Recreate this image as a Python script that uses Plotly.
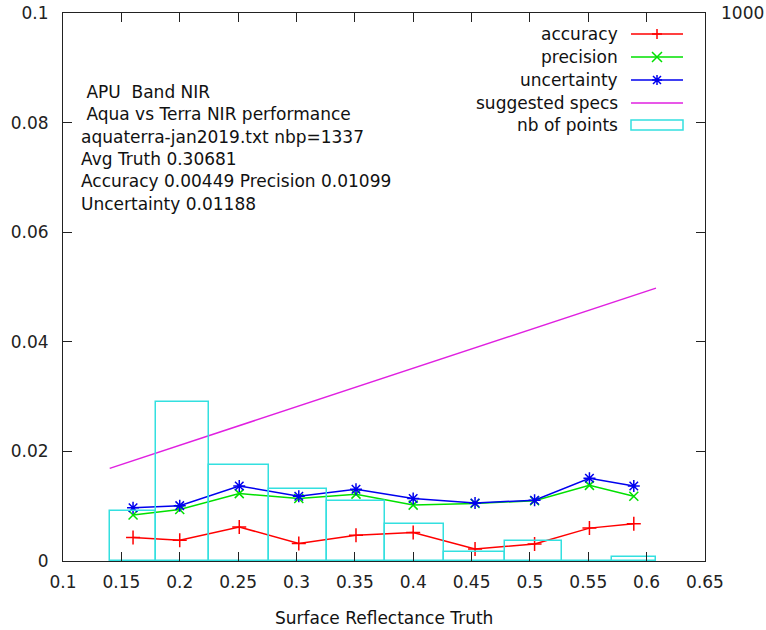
import plotly.graph_objects as go

# ---------------- data ----------------
truth = [0.160, 0.200, 0.251, 0.302, 0.351, 0.400, 0.453, 0.504, 0.551, 0.589]
accuracy = [0.0043, 0.0038, 0.0062, 0.0032, 0.0047, 0.0052, 0.0022, 0.0031, 0.0060, 0.0068]
precision = [0.0084, 0.0094, 0.0123, 0.0114, 0.0122, 0.0102, 0.0105, 0.0110, 0.0138, 0.0118]
uncertainty = [0.0097, 0.0101, 0.0137, 0.0118, 0.0131, 0.0114, 0.0106, 0.0111, 0.0151, 0.0137]
npoints = [92, 291, 175, 131, 110, 68, 17, 36, 0, 7]
spec_values = [0.0169, 0.0498]
info_lines = [
    "\u00a0APU\u00a0\u00a0Band NIR",
    "\u00a0Aqua vs Terra NIR performance",
    "aquaterra-jan2019.txt nbp=1337",
    "Avg Truth 0.30681",
    "Accuracy 0.00449 Precision 0.01099",
    "Uncertainty 0.01188",
]
x_ticks = [0.1, 0.15, 0.2, 0.25, 0.3, 0.35, 0.4, 0.45, 0.5, 0.55, 0.6, 0.65]
y_ticks = [0, 0.02, 0.04, 0.06, 0.08, 0.1]
y_tick_labels = ["0", "0.02", "0.04", "0.06", "0.08", "0.1"]

# box edges like gnuplot autowidth
mids = [(truth[i] + truth[i + 1]) / 2 for i in range(len(truth) - 1)]
edges = [truth[0] - (mids[0] - truth[0])] + mids + [truth[-1] + (truth[-1] - mids[-1])]
widths = [edges[i + 1] - edges[i] for i in range(len(truth))]
centers = [(edges[i + 1] + edges[i]) / 2 for i in range(len(truth))]
spec_x = [edges[0], edges[-1]]

# ---------------- styling ----------------
W, H = 766, 630
L, R, T, B = 63, 705, 13, 561
FONT = "DejaVu Sans"
FS = 17
RED = "#ff0000"
GREEN = "#00e000"
BLUE = "#0000ee"
MAGENTA = "#e020e0"
CYAN = "#33e0e0"
AXC = "#222222"


def px(x, y):
    return (x - L) / (R - L), (B - y) / (B - T)


fig = go.Figure()

fig.add_trace(go.Scatter(x=truth, y=accuracy, mode="lines+markers",
                         line=dict(color=RED, width=1.5),
                         marker=dict(symbol="cross-thin-open", size=10,
                                     line=dict(color=RED, width=1.5))))
fig.add_trace(go.Scatter(x=truth, y=precision, mode="lines+markers",
                         line=dict(color=GREEN, width=1.5),
                         marker=dict(symbol="x-thin-open", size=9,
                                     line=dict(color=GREEN, width=1.5))))
fig.add_trace(go.Scatter(x=truth, y=uncertainty, mode="lines+markers",
                         line=dict(color=BLUE, width=1.5),
                         marker=dict(symbol="asterisk-open", size=10,
                                     line=dict(color=BLUE, width=1.5))))
fig.add_trace(go.Scatter(x=spec_x, y=spec_values, mode="lines",
                         line=dict(color=MAGENTA, width=1.5)))
fig.add_trace(go.Bar(x=centers, y=npoints, width=widths, yaxis="y2",
                     marker=dict(color="rgba(0,0,0,0)",
                                 line=dict(color=CYAN, width=1.5))))

fig.update_layout(
    width=W, height=H,
    margin=dict(l=L, r=W - R, t=T, b=H - B, pad=0),
    paper_bgcolor="white", plot_bgcolor="white",
    showlegend=False,
    font=dict(family=FONT, size=FS, color=AXC),
    xaxis=dict(range=[0.1, 0.65], tickvals=x_ticks,
               ticktext=[f"{v:g}" for v in x_ticks],
               ticks="inside", ticklen=9, tickcolor=AXC, tickwidth=1,
               showline=True, linecolor=AXC, linewidth=1, mirror="ticks",
               showgrid=False, zeroline=False, automargin=False,
               ticklabelstandoff=6),
    yaxis=dict(range=[0, 0.1], tickvals=y_ticks, ticktext=y_tick_labels,
               ticks="inside", ticklen=9, tickcolor=AXC, tickwidth=1,
               showline=True, linecolor=AXC, linewidth=1, mirror="ticks",
               showgrid=False, zeroline=False, ticklabelstandoff=10,
               automargin=False),
    yaxis2=dict(range=[0, 1000], overlaying="y", side="right",
                tickvals=[1000], ticktext=["1000"], ticks="",
                showline=False, showgrid=False, zeroline=False,
                ticklabelstandoff=15, automargin=False),
    bargap=0,
)

# x-axis title
xp, yp = px((L + R) / 2, 618)
fig.add_annotation(text="Surface Reflectance Truth", x=xp, y=yp, xref="paper",
                   yref="paper", xanchor="center", yanchor="middle",
                   showarrow=False, font=dict(family=FONT, size=FS, color="#111111"))

# info text block
info_y = [92, 114, 137, 159, 181, 204]
for txt, yy in zip(info_lines, info_y):
    xp, yp = px(79, yy)
    fig.add_annotation(text=txt, x=xp, y=yp, xref="paper", yref="paper",
                       xanchor="left", yanchor="middle", showarrow=False,
                       font=dict(family=FONT, size=FS, color="#111111"))

# custom gnuplot-like legend
leg_names = ["accuracy", "precision", "uncertainty", "suggested specs", "nb of points"]
leg_colors = [RED, GREEN, BLUE, MAGENTA, CYAN]
leg_y = [34, 57, 80, 103, 125]
sx0, sx1 = 631, 683
sxm = (sx0 + sx1) / 2
for i, (name, col, yy) in enumerate(zip(leg_names, leg_colors, leg_y)):
    xp, yp = px(620, yy)
    fig.add_annotation(text=name, x=xp, y=yp, xref="paper", yref="paper",
                       xanchor="right", yanchor="middle", showarrow=False,
                       font=dict(family=FONT, size=FS, color="#111111"))
    if i < 4:
        a = px(sx0, yy)
        b = px(sx1, yy)
        fig.add_shape(type="line", x0=a[0], y0=a[1], x1=b[0], y1=b[1],
                      xref="paper", yref="paper", line=dict(color=col, width=1.5))
    else:
        a = px(sx0, yy - 5)
        b = px(sx1, yy + 5)
        fig.add_shape(type="rect", x0=a[0], y0=a[1], x1=b[0], y1=b[1],
                      xref="paper", yref="paper", line=dict(color=col, width=1.5))
    segs = []
    s = 5
    if i == 0:
        segs = [((-s, 0), (s, 0)), ((0, -s), (0, s))]
    elif i == 1:
        segs = [((-s, -s), (s, s)), ((-s, s), (s, -s))]
    elif i == 2:
        segs = [((-s, 0), (s, 0)), ((0, -s), (0, s)),
                ((-4, -4), (4, 4)), ((-4, 4), (4, -4))]
    path = ""
    for (dx0, dy0), (dx1, dy1) in segs:
        p0 = px(sxm + dx0, yy + dy0)
        p1 = px(sxm + dx1, yy + dy1)
        path += f"M{p0[0]},{p0[1]} L{p1[0]},{p1[1]} "
    if path:
        fig.add_shape(type="path", path=path.strip(), xref="paper", yref="paper",
                      line=dict(color=col, width=1.5))

fig.write_html("out.html")
